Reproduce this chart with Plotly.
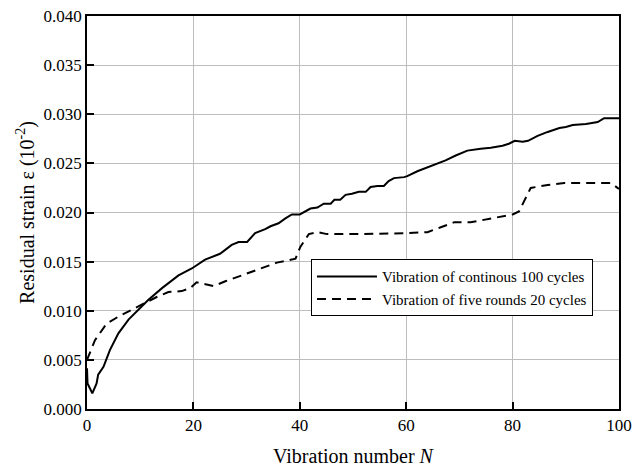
import plotly.graph_objects as go

# Continuous 100 cycles (solid)
cont_n = [0, 0.1, 1.0, 1.8, 2.1, 3.1, 4.3, 5.9, 7.8, 9.7, 11.5, 14.1, 17.2, 19.7, 22.2, 25.0,
          27.2, 28.5, 30.1, 31.6, 33.5, 34.5, 36.0, 37.3, 38.5, 40.0, 42.0, 43.3, 44.5, 45.8,
          46.5, 47.6, 48.6, 49.8, 51.1, 52.4, 53.3, 54.6, 55.8, 56.7, 57.7, 59.6, 60.2, 62.1,
          64.0, 65.9, 67.4, 69.3, 71.5, 74.0, 75.9, 78.1, 79.3, 80.4, 81.9, 82.9, 84.7, 86.6,
          88.8, 90.0, 91.3, 93.8, 96.0, 97.2, 100]
cont_eps = [0.00414, 0.0026, 0.0016, 0.0026, 0.0035, 0.0043, 0.0060, 0.0077, 0.0091, 0.0101,
            0.0111, 0.0123, 0.0136, 0.0143, 0.0152, 0.0158, 0.0167, 0.0170, 0.0170, 0.0179,
            0.0183, 0.0186, 0.0189, 0.0194, 0.0198, 0.0198, 0.0204, 0.0205, 0.0209, 0.0209,
            0.0213, 0.0213, 0.0218, 0.0219, 0.0221, 0.0221, 0.0226, 0.0227, 0.0227, 0.0232,
            0.0235, 0.0236, 0.0237, 0.0242, 0.0246, 0.0250, 0.0253, 0.0258, 0.0263, 0.0265,
            0.0266, 0.0268, 0.0270, 0.0273, 0.0272, 0.0273, 0.0278, 0.0282, 0.0286, 0.0287,
            0.0289, 0.0290, 0.0292, 0.0296, 0.0296]

# Five rounds of 20 cycles (dashed)
five_n = [0, 1.5, 3.7, 5.9, 8.4, 10.9, 13.1, 15.3, 17.8, 19.4, 20.6, 23.8, 26.0, 29.1, 33.5,
          35.7, 39.2, 40.1, 41.7, 43.3, 45.1, 51.4, 60.2, 64.0, 66.5, 69.0, 72.1, 75.9, 80.0,
          81.2, 83.4, 86.6, 89.7, 98.5, 100]
five_eps = [0.0050, 0.0070, 0.0087, 0.0094, 0.0101, 0.0108, 0.0114, 0.0119, 0.0120, 0.0123,
            0.0129, 0.0125, 0.0130, 0.0136, 0.0145, 0.0149, 0.0153, 0.0165, 0.0178, 0.0180,
            0.0178, 0.0178, 0.0179, 0.0180, 0.0185, 0.0190, 0.0190, 0.0194, 0.0198, 0.0201,
            0.0225, 0.0228, 0.0230, 0.0230, 0.0224]

x_ticks = [0, 20, 40, 60, 80, 100]
y_ticks = [0.000, 0.005, 0.010, 0.015, 0.020, 0.025, 0.030, 0.035, 0.040]
y_tick_labels = ["0.000", "0.005", "0.010", "0.015", "0.020", "0.025", "0.030", "0.035", "0.040"]

FONT = "Liberation Serif"

fig = go.Figure()
fig.add_trace(go.Scatter(x=cont_n, y=cont_eps, mode="lines",
                         name="Vibration of continous 100 cycles",
                         line=dict(color="black", width=2)))
fig.add_trace(go.Scatter(x=five_n, y=five_eps, mode="lines",
                         name="Vibration of five rounds 20 cycles",
                         line=dict(color="black", width=2, dash="9px,6px")))

fig.update_layout(
    width=636, height=467,
    margin=dict(l=87, r=17, t=16, b=58),
    paper_bgcolor="white", plot_bgcolor="white",
    font=dict(family=FONT, color="black", size=17),
    legend=dict(x=0.421, y=0.381, xanchor="left", yanchor="top",
                bordercolor="black", borderwidth=1, bgcolor="white",
                font=dict(family=FONT, size=15), tracegroupgap=0,
                itemwidth=60),
    showlegend=True,
)
fig.update_xaxes(
    range=[0, 100], tickvals=x_ticks, ticktext=[str(v) for v in x_ticks],
    ticks="inside", ticklen=7, tickcolor="black", tickwidth=1.5,
    showline=True, linecolor="black", linewidth=1.5, mirror=True,
    showgrid=True, gridcolor="#bdbdbd", gridwidth=1, zeroline=False,
    tickfont=dict(family=FONT, size=17), automargin=False,
    title=dict(text="Vibration number <i>N</i>", font=dict(family=FONT, size=20), standoff=16),
)
fig.update_yaxes(
    range=[0, 0.040], tickvals=y_ticks, ticktext=y_tick_labels,
    ticks="inside", ticklen=7, tickcolor="black", tickwidth=1.5,
    showline=True, linecolor="black", linewidth=1.5, mirror=True,
    showgrid=True, gridcolor="#bdbdbd", gridwidth=1, zeroline=False,
    tickfont=dict(family=FONT, size=17), automargin=False,
    title=dict(text="Residual strain ε (10<sup>-2</sup>)", font=dict(family=FONT, size=20), standoff=4),
)

fig.write_html("out.html")
